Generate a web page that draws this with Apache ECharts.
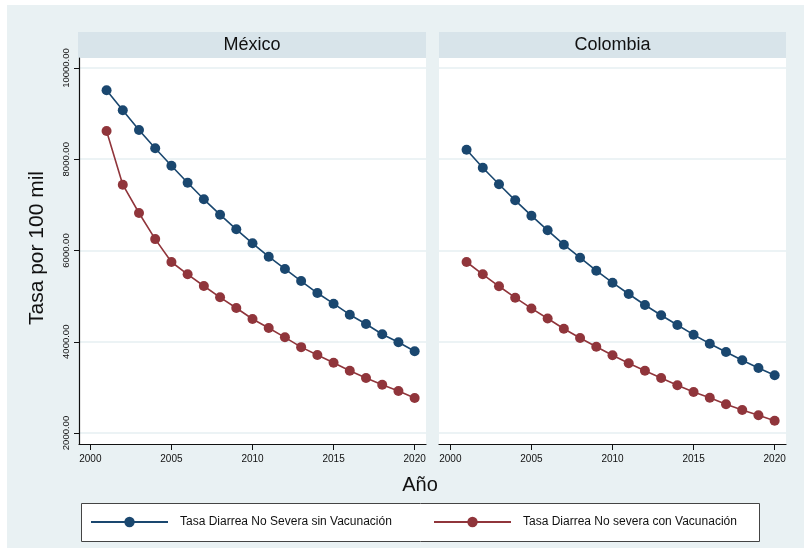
<!DOCTYPE html>
<html>
<head>
<meta charset="utf-8">
<script src="https://cdn.jsdelivr.net/npm/echarts@6/dist/echarts.min.js"></script>
<style>
  html, body { margin: 0; padding: 0; background: #ffffff; }
  #bg { position: absolute; left: 7px; top: 5px; width: 797px; height: 543px; background: #e9f1f3; }
  #chart { position: absolute; left: 0; top: 0; width: 804px; height: 550px; }
</style>
</head>
<body>
<div id="bg"></div>
<div id="chart"></div>
<script>
// Years on the horizontal axis
const years = [2001, 2002, 2003, 2004, 2005, 2006, 2007, 2008, 2009, 2010,
               2011, 2012, 2013, 2014, 2015, 2016, 2017, 2018, 2019, 2020];

// Panel names
const panels = ['México', 'Colombia'];

// Series names
const seriesNames = ['Tasa Diarrea No Severa sin Vacunación', 'Tasa Diarrea No severa con Vacunación'];

// México: rate per 100 000
const mexicoSinVac = [9511, 9073, 8641, 8240, 7859, 7486, 7122, 6785, 6465, 6158,
                      5864, 5595, 5330, 5068, 4834, 4593, 4389, 4164, 3988, 3791];
const mexicoConVac = [8619, 7442, 6822, 6250, 5748, 5478, 5222, 4974, 4740, 4499,
                      4301, 4097, 3882, 3710, 3541, 3366, 3204, 3058, 2921, 2767];

// Colombia: rate per 100 000
const colombiaSinVac = [8209, 7815, 7451, 7100, 6763, 6443, 6127, 5842, 5558, 5295,
                        5047, 4805, 4580, 4367, 4155, 3958, 3775, 3593, 3425, 3265];
const colombiaConVac = [5748, 5478, 5216, 4966, 4730, 4510, 4286, 4082, 3892, 3703,
                        3527, 3366, 3205, 3045, 2899, 2774, 2629, 2504, 2388, 2270];

// Axis ticks
const yTicks = [2000, 4000, 6000, 8000, 10000];
const xTicks = [2000, 2005, 2010, 2015, 2020];

const NAVY = '#1a476f';
const MAROON = '#90353b';
const FONT = '"Liberation Sans", Arial, Helvetica, sans-serif';
const TEXT = '#111111';

const pairs = vals => years.map((y, i) => [y, vals[i]]);

const chart = echarts.init(document.getElementById('chart'), null, { renderer: 'canvas' });

const gridBase = { top: 58, width: 347, height: 386, show: true, backgroundColor: '#ffffff', borderWidth: 0 };

function xAxisFor(gridIndex) {
  return {
    type: 'value', gridIndex, min: 1999.3, max: 2020.7,
    axisLine: { show: true, onZero: false, lineStyle: { color: '#111', width: 1.2 } },
    axisTick: { show: true, length: 6, customValues: xTicks, lineStyle: { color: '#111', width: 1 } },
    axisLabel: { show: true, customValues: xTicks, margin: 10, fontSize: 10, fontFamily: FONT, color: TEXT,
                 formatter: v => String(Math.round(v)) },
    splitLine: { show: false }
  };
}

function yAxisFor(gridIndex, visible) {
  return {
    type: 'value', gridIndex, min: 1759, max: 10219,
    axisLine: { show: visible, lineStyle: { color: '#111', width: 1.2 } },
    axisTick: { show: visible, length: 5, customValues: yTicks, lineStyle: { color: '#111', width: 1 } },
    axisLabel: { show: visible, customValues: yTicks, rotate: 90, margin: 8, fontSize: 9.5, fontFamily: FONT, color: TEXT,
                 formatter: v => v.toFixed(2) },
    splitLine: { show: true, lineStyle: { color: '#e6eff2', width: 1.5 } }
  };
}

function lineSeries(name, vals, color, idx) {
  return {
    type: 'line', name, data: pairs(vals), xAxisIndex: idx, yAxisIndex: idx,
    symbol: 'circle', symbolSize: 10, showSymbol: true,
    lineStyle: { color, width: 1.6 }, itemStyle: { color },
    emphasis: { disabled: true }, animation: false
  };
}

function strip(x, w, label) {
  return {
    type: 'group', left: x, top: 32, children: [
      { type: 'rect', shape: { x: 0, y: 0, width: w, height: 26 }, style: { fill: '#d8e4ea' } },
      { type: 'text', x: w / 2, y: 13, style: { text: label, font: '18px ' + FONT, fill: TEXT, align: 'center', verticalAlign: 'middle' } }
    ]
  };
}

chart.setOption({
  backgroundColor: 'transparent',
  animation: false,
  grid: [
    Object.assign({ left: 79 }, gridBase),
    Object.assign({ left: 439 }, gridBase)
  ],
  xAxis: [xAxisFor(0), xAxisFor(1)],
  yAxis: [yAxisFor(0, true), yAxisFor(1, false)],
  legend: [
    { data: [seriesNames[0]], left: 90, top: 516, padding: 0, itemWidth: 77, itemHeight: 13,
      textStyle: { fontSize: 12, fontFamily: FONT, color: TEXT, padding: [0, 0, 0, 7] }, selectedMode: false },
    { data: [seriesNames[1]], left: 433, top: 516, padding: 0, itemWidth: 77, itemHeight: 13,
      textStyle: { fontSize: 12, fontFamily: FONT, color: TEXT, padding: [0, 0, 0, 7] }, selectedMode: false }
  ],
  graphic: [
    strip(78, 348, panels[0]),
    strip(439, 347, panels[1]),
    { type: 'rect', left: 81, top: 503, z: -1, shape: { x: 0, y: 0, width: 678, height: 38 },
      style: { fill: '#ffffff', stroke: '#444444', lineWidth: 1 } },
    { type: 'text', x: 420, y: 485, style: { text: 'Año', font: '20px ' + FONT, fill: TEXT, align: 'center', verticalAlign: 'middle' } },
    { type: 'text', x: 37, y: 248, rotation: Math.PI / 2,
      style: { text: 'Tasa por 100 mil', font: '21px ' + FONT, fill: TEXT, align: 'center', verticalAlign: 'middle' } }
  ],
  series: [
    lineSeries(seriesNames[0], mexicoSinVac, NAVY, 0),
    lineSeries(seriesNames[1], mexicoConVac, MAROON, 0),
    lineSeries(seriesNames[0], colombiaSinVac, NAVY, 1),
    lineSeries(seriesNames[1], colombiaConVac, MAROON, 1)
  ]
});
</script>
</body>
</html>
